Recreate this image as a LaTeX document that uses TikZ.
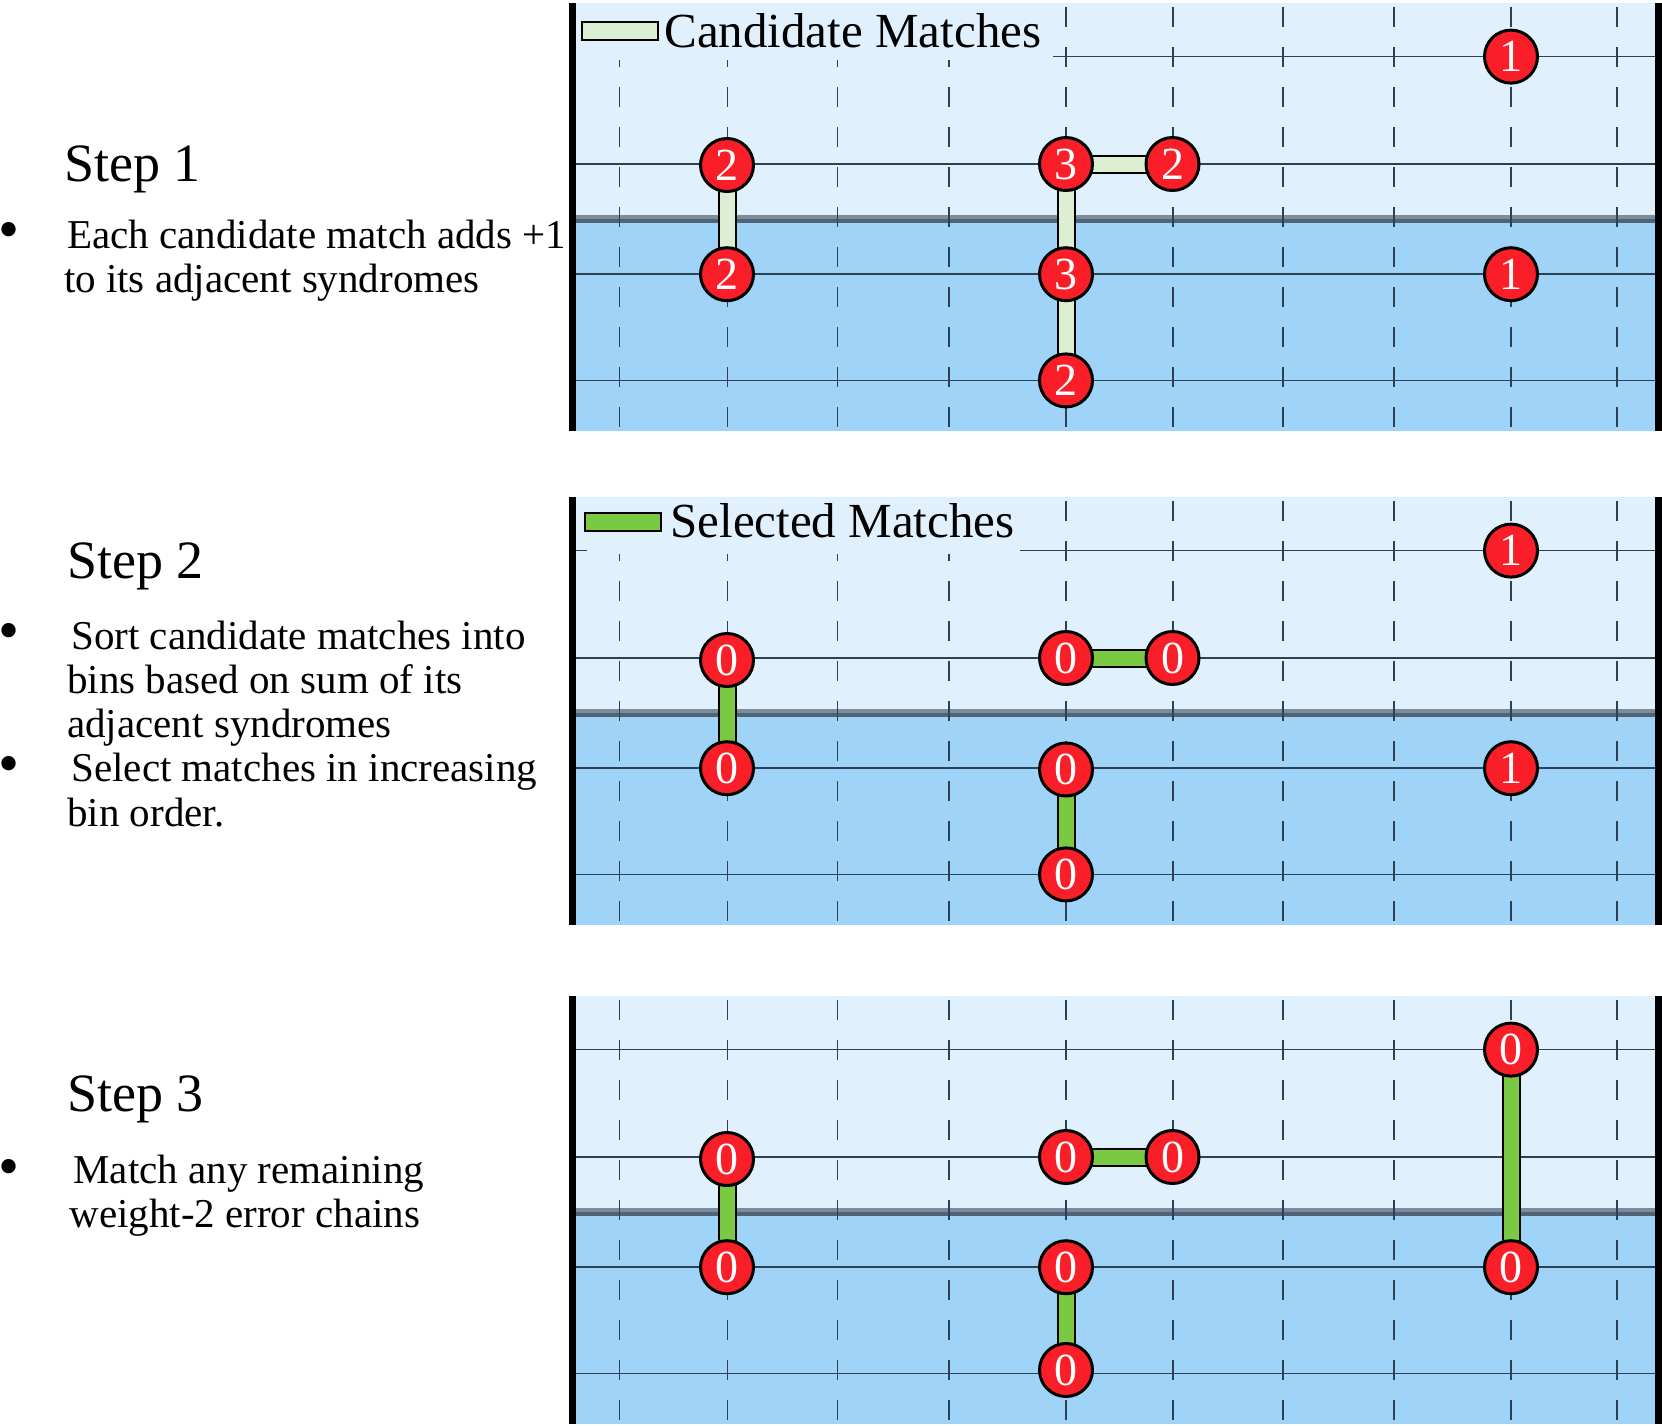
\documentclass[tikz,border=0pt]{standalone}
\usepackage{fontspec}
\setmainfont{Liberation Serif}
\definecolor{lightbg}{RGB}{224,240,253}
\definecolor{darkbg}{RGB}{160,211,248}
\definecolor{gridc}{RGB}{45,65,85}
\definecolor{divtop}{RGB}{125,140,153}
\definecolor{divbot}{RGB}{80,100,120}
\definecolor{synred}{RGB}{250,30,40}
\definecolor{candgreen}{RGB}{221,239,210}
\definecolor{selgreen}{RGB}{122,201,67}
\pgfdeclarelayer{panel}
\pgfdeclarelayer{edges}
\pgfsetlayers{panel,edges,main}
\begin{document}
\begin{tikzpicture}[x=0.5pt,y=-0.5pt,
  syn/.style={circle, draw=black, line width=1.5pt, fill=synred, text=white,
    minimum size=26.5pt, inner sep=0pt, font=\fontsize{23pt}{23pt}\selectfont},
  cand/.style={draw=black, line width=1pt, double=candgreen, double distance=7.5pt},
  sel/.style={draw=black, line width=1pt, double=selgreen, double distance=7.5pt},
  gridline/.style={draw=gridc, line width=0.75pt},
  dashline/.style={draw=gridc, line width=0.75pt, dash pattern=on 10pt off 10pt},
  legbox/.style={draw=black, line width=1pt, minimum width=38pt, minimum height=9pt, inner sep=0pt},
  legtext/.style={anchor=base west, inner sep=0pt, font=\fontsize{24.5pt}{28pt}\selectfont},
  title/.style={anchor=west, inner sep=0pt, font=\fontsize{27pt}{32pt}\selectfont},
  body/.style={anchor=base west, inner sep=0pt, font=\fontsize{20.5pt}{24pt}\selectfont},
  bul/.style={anchor=center, inner sep=0pt, font=\fontsize{30pt}{30pt}\selectfont}
]
\useasboundingbox (0,0) rectangle (1662,1426);

% ---------- panel backgrounds ----------
\foreach \T in {3,497,996}{
  \begin{scope}[shift={(0,\T)}]
  \begin{pgfonlayer}{panel}
    \fill[lightbg] (576,0) rectangle (1655,216);
    \fill[darkbg] (576,216) rectangle (1655,428);
    \foreach \r in {53.6,161,271.2,377.4}
      \draw[gridline] (576,\r) -- (1655,\r);
    \draw[divtop, line width=2pt] (576,214) -- (1655,214);
    \draw[divbot, line width=2pt] (576,218) -- (1655,218);
    \foreach \x in {619.3,727.3,837.4,949.1,1066,1172.8,1282.8,1393.9,1510.8,1617.2}
      \draw[dashline] (\x,4) -- (\x,428);
    \fill[black] (569,0) rectangle (576,428);
    \fill[black] (1655,0) rectangle (1662,428);
  \end{pgfonlayer}
  \end{scope}
}

% ---------- legends ----------
\begin{pgfonlayer}{panel}
  \fill[lightbg] (576,3) rectangle (1053,60);
  \fill[lightbg] (587,497) rectangle (1020,554);
\end{pgfonlayer}
\node[legbox, fill=candgreen] (leg1) at (620,31) {};
\node[legtext] (legt1) at (664,47) {Candidate Matches};
\node[legbox, fill=selgreen] (leg2) at (623,521.5) {};
\node[legtext] (legt2) at (670,537.5) {Selected Matches};

% ---------- panel 1 ----------
\begin{scope}[shift={(0,3)}]
\node[syn] (a1) at (727,162) {2};
\node[syn] (a2) at (727,271.2) {2};
\node[syn] (a3) at (1066,161) {3};
\node[syn] (a4) at (1172.5,161) {2};
\node[syn] (a5) at (1066,271.2) {3};
\node[syn] (a6) at (1066,377.4) {2};
\node[syn] (a7) at (1511,53.6) {1};
\node[syn] (a8) at (1511,271.2) {1};
\end{scope}
\begin{pgfonlayer}{edges}
\draw[cand] (a1.center) -- (a2.center);
\draw[cand] (a3.center) -- (a4.center);
\draw[cand] (a3.center) -- (a5.center);
\draw[cand] (a5.center) -- (a6.center);
\end{pgfonlayer}

% ---------- panel 2 ----------
\begin{scope}[shift={(0,497)}]
\node[syn] (b1) at (727,163) {0};
\node[syn] (b2) at (727,271.2) {0};
\node[syn] (b3) at (1066,161) {0};
\node[syn] (b4) at (1172.5,161) {0};
\node[syn] (b5) at (1066,272.5) {0};
\node[syn] (b6) at (1066,377.4) {0};
\node[syn] (b7) at (1511,53.6) {1};
\node[syn] (b8) at (1511,271.2) {1};
\end{scope}
\begin{pgfonlayer}{edges}
\draw[sel] (b1.center) -- (b2.center);
\draw[sel] (b3.center) -- (b4.center);
\draw[sel] (b5.center) -- (b6.center);
\end{pgfonlayer}

% ---------- panel 3 ----------
\begin{scope}[shift={(0,996)}]
\node[syn] (c1) at (727,163) {0};
\node[syn] (c2) at (727,271.2) {0};
\node[syn] (c3) at (1066,161) {0};
\node[syn] (c4) at (1172.5,161) {0};
\node[syn] (c5) at (1066,271.2) {0};
\node[syn] (c6) at (1066,374) {0};
\node[syn] (c7) at (1511,53.6) {0};
\node[syn] (c8) at (1511,271.2) {0};
\end{scope}
\begin{pgfonlayer}{edges}
\draw[sel] (c1.center) -- (c2.center);
\draw[sel] (c3.center) -- (c4.center);
\draw[sel] (c5.center) -- (c6.center);
\draw[sel] (c7.center) -- (c8.center);
\end{pgfonlayer}

% ---------- left texts ----------
\node[title] (s1) at (63.6,169.5) {Step 1};
\node[bul] (u1) at (9,236) {\textbullet};
\node[body] (t1a) at (66.8,248.3) {Each candidate match adds +1};
\node[body] (t1b) at (63.6,292.6) {to its adjacent syndromes};

\node[title] (s2) at (66.8,566) {Step 2};
\node[bul] (u2) at (9,637) {\textbullet};
\node[body] (t2a) at (71,649) {Sort candidate matches into};
\node[body] (t2b) at (66.8,693.3) {bins based on sum of its};
\node[body] (t2c) at (66.8,737.6) {adjacent syndromes};
\node[bul] (u3) at (9,770) {\textbullet};
\node[body] (t2d) at (71,781.9) {Select matches in increasing};
\node[body] (t2e) at (66.8,826.2) {bin order.};

\node[title] (s3) at (66.8,1099.5) {Step 3};
\node[bul] (u4) at (9,1173) {\textbullet};
\node[body] (t3a) at (73,1183) {Match any remaining};
\node[body] (t3b) at (69,1227.3) {weight-2 error chains};
\end{tikzpicture}
\end{document}
